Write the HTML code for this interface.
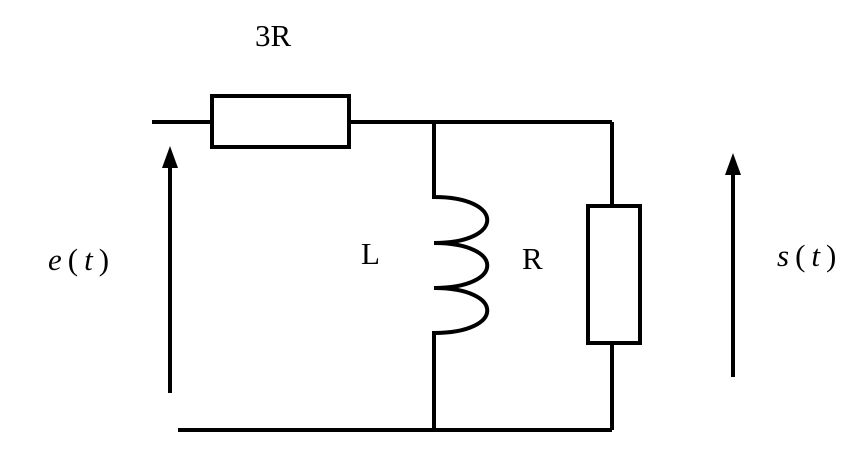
<!DOCTYPE html>
<html><head><meta charset="utf-8"><style>body{margin:0;background:#fff}svg{display:block}text{font-family:"Liberation Serif",serif;font-size:31px;fill:#000}</style></head>
<body>
<svg width="868" height="451" viewBox="0 0 868 451">
<g stroke="#000" stroke-width="4" fill="none">
<path d="M152 122H212M349 122H612"/>
<rect x="212" y="96" width="137" height="51"/>
<path d="M434 122V197C505 197 505 243 434 243C505 243 505 288 434 288C505 288 505 333 434 333V430"/>
<path d="M612 122V206M612 343V430"/>
<rect x="588" y="206" width="52" height="137"/>
<path d="M178 430H612"/>
<path d="M170 393V160"/>
<path d="M733 377V167"/>
</g>
<polygon points="170,146 162,168 178,168" fill="#000"/>
<polygon points="733,153 725,175 741,175" fill="#000"/>
<text x="255" y="46">3R</text>
<text x="48" y="270" letter-spacing="6"><tspan font-style="italic">e</tspan>(<tspan font-style="italic">t</tspan>)</text>
<text x="361" y="264">L</text>
<text x="522" y="269">R</text>
<text x="777" y="266" letter-spacing="6"><tspan font-style="italic">s</tspan>(<tspan font-style="italic">t</tspan>)</text>
</svg>
</body></html>
